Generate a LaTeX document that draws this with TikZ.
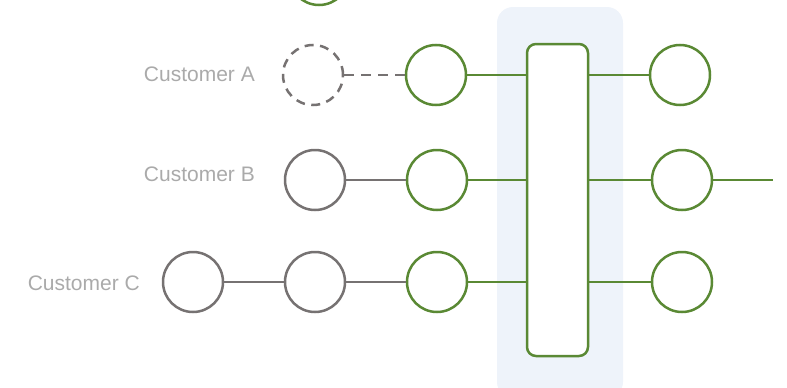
\documentclass[tikz,border=0pt]{standalone}
\usepackage{fontspec}
\setmainfont{Liberation Sans}
\definecolor{grn}{RGB}{90,137,52}
\definecolor{gry}{RGB}{118,114,114}
\definecolor{lbl}{RGB}{170,170,170}
\definecolor{bgpanel}{RGB}{238,243,250}
\begin{document}
\begin{tikzpicture}[x=1pt,y=-1pt,
  gc/.style={circle,draw=grn,line width=2.5pt,minimum size=60pt,inner sep=0pt,fill=white},
  kc/.style={circle,draw=gry,line width=2.5pt,minimum size=60pt,inner sep=0pt,fill=white},
  dc/.style={circle,draw=gry,line width=2.5pt,minimum size=60pt,inner sep=0pt,dash pattern=on 9pt off 6.5pt},
  gl/.style={draw=grn,line width=2.5pt},
  kl/.style={draw=gry,line width=2.5pt},
  lab/.style={text=lbl,font=\fontsize{21}{24}\selectfont,anchor=east,inner sep=0pt}]
\useasboundingbox (0,0) rectangle (787,388);
\fill[bgpanel,rounded corners=16pt] (497,7) rectangle (623,398);
\node[draw=grn,line width=2.5pt,rounded corners=9pt,fill=white,minimum width=61pt,minimum height=312pt,inner sep=0pt] (hub) at (557.5,200) {};
% top partially visible
\node[gc] (top) at (319,-25) {};
% row A
\node[lab] (la) at (255,74) {Customer A};
\node[dc] (a1) at (313,75) {};
\node[gc] (a2) at (436,75) {};
\node[gc] (ra) at (680,75) {};
% row B
\node[lab] (lb) at (255,174) {Customer B};
\node[kc] (b1) at (315,180) {};
\node[gc] (b2) at (437,180) {};
\node[gc] (rb) at (682,180) {};
\coordinate (bend) at (773,180);
% row C
\node[lab] (lc) at (140,283) {Customer C};
\node[kc] (c0) at (193,282) {};
\node[kc] (c1) at (315,282) {};
\node[gc] (c2) at (437,282) {};
\node[gc] (rc) at (682,282) {};
% connectors
\draw[kl,dash pattern=on 10pt off 7pt] (a1.east) -- (a2.west);
\draw[kl] (b1.east) -- (b2.west);
\draw[kl] (c0.east) -- (c1.west);
\draw[kl] (c1.east) -- (c2.west);
\draw[gl] (a2.east) -- (a2.east -| hub.west);
\draw[gl] (b2.east) -- (b2.east -| hub.west);
\draw[gl] (c2.east) -- (c2.east -| hub.west);
\draw[gl] (ra.west -| hub.east) -- (ra.west);
\draw[gl] (rb.west -| hub.east) -- (rb.west);
\draw[gl] (rc.west -| hub.east) -- (rc.west);
\draw[gl] (rb.east) -- (bend);
\end{tikzpicture}
\end{document}
